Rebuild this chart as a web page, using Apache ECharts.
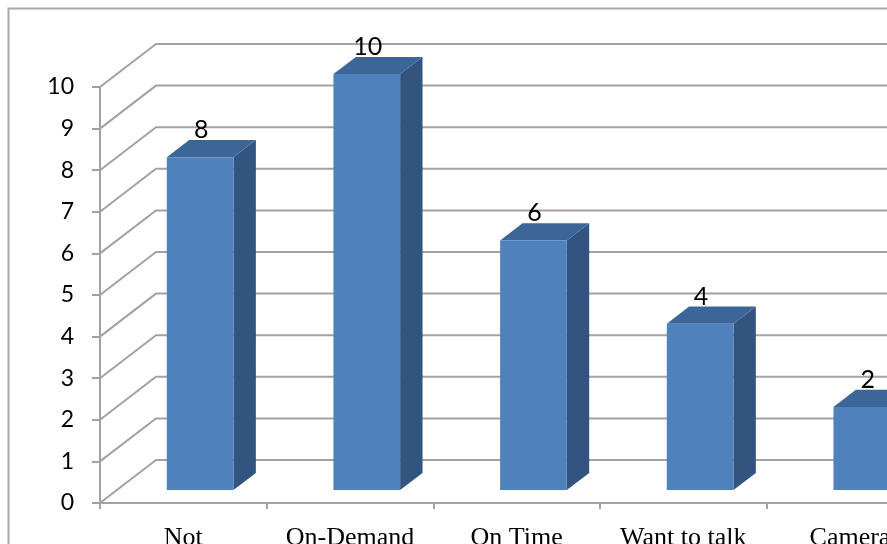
<!DOCTYPE html>
<html>
<head>
<meta charset="utf-8">
<script src="https://cdn.jsdelivr.net/npm/echarts@6/dist/echarts.min.js"></script>
<style>
html,body{margin:0;padding:0;background:#fff;}
#chart{width:887px;height:544px;}
</style>
</head>
<body>
<div id="chart"></div>
<script>
// ---- data ----
const categories = ['Not', 'On-Demand', 'On Time', 'Want to talk', 'Camera'];
const values = [8, 10, 6, 4, 2];
const yTicks = [0, 1, 2, 3, 4, 5, 6, 7, 8, 9, 10];

// ---- style constants (3D look) ----
const DEPTH_X = 56, DEPTH_Y = 43;          // floor depth offset
const BAR_START = 0.3, BAR_DEPTH = 0.4;      // bar position in depth (fraction)
const GRID_COLOR = '#a2a2a2';
const FRONT = '#4f81bd', SIDE = '#32547e', TOP = '#3c6698';

const chart = echarts.init(document.getElementById('chart'), null, {renderer: 'canvas'});

function renderGrid(params, api) {
  const cs = params.coordSys;
  const y = api.coord([0, api.value(1)])[1];
  const x0 = cs.x, x1 = cs.x + cs.width;
  return {
    type: 'polyline',
    shape: { points: [[x0, y], [x0 + DEPTH_X, y - DEPTH_Y], [x1 + DEPTH_X + 200, y - DEPTH_Y]] },
    style: { stroke: GRID_COLOR, lineWidth: 2, fill: null }
  };
}

function renderBar(params, api) {
  const i = api.value(0), v = api.value(1);
  const base = api.coord([i, 0]);
  const top = api.coord([i, v]);
  const bw = api.size([1, 0])[0] * 0.4;
  const ox = DEPTH_X * BAR_START, oy = DEPTH_Y * BAR_START;
  const dx = DEPTH_X * BAR_DEPTH, dy = DEPTH_Y * BAR_DEPTH;
  const l = base[0] - bw / 2 + ox, r = base[0] + bw / 2 + ox;
  const t = top[1] - oy, b = base[1] - oy;
  return {
    type: 'group',
    children: [
      { type: 'polygon', shape: { points: [[r, t], [r + dx, t - dy], [r + dx, b - dy], [r, b]] },
        style: { fill: SIDE } },
      { type: 'polygon', shape: { points: [[l, t], [l + dx, t - dy], [r + dx, t - dy], [r, t]] },
        style: { fill: TOP } },
      { type: 'rect', shape: { x: l, y: t, width: r - l, height: b - t },
        style: { fill: FRONT } },
      { type: 'text', x: (l + r) / 2 + 1, y: t - dy - 10,
        style: { text: String(v), fill: '#000', font: '25px Lato, "Liberation Sans", sans-serif',
                 align: 'center', verticalAlign: 'middle' } }
    ]
  };
}

chart.setOption({
  animation: false,
  backgroundColor: '#fff',
  graphic: [{
    type: 'rect', left: 6, top: 6, z: 100,
    shape: { x: 0, y: 0, width: 2000, height: 2000 },
    style: { fill: null, stroke: '#a8a8a8', lineWidth: 2 }
  }],
  grid: { left: 100, top: 87, width: 833.3, height: 416, containLabel: false, outerBoundsMode: 'none' },
  xAxis: {
    type: 'category', data: categories, boundaryGap: true,
    axisLine: { show: true, lineStyle: { color: GRID_COLOR, width: 2 } },
    axisTick: { show: true, length: 6, lineStyle: { color: GRID_COLOR, width: 2 } },
    axisLabel: { color: '#000', fontFamily: '"Liberation Serif", serif', fontSize: 26, margin: 22, interval: 0 },
    splitLine: { show: false }
  },
  yAxis: {
    type: 'value', min: 0, max: 10, interval: 1,
    axisLine: { show: true, lineStyle: { color: GRID_COLOR, width: 2 } },
    axisTick: { show: true, length: 8, lineStyle: { color: GRID_COLOR, width: 2 } },
    axisLabel: { color: '#000', fontFamily: 'Lato, "Liberation Sans", sans-serif', fontSize: 23, margin: 26 },
    splitLine: { show: false }
  },
  series: [
    { type: 'custom', renderItem: renderGrid, clip: false, z: 1, silent: true,
      data: yTicks.map(t => [0, t]) },
    { type: 'custom', renderItem: renderBar, clip: false, z: 3,
      data: values.map((v, i) => [i, v]) }
  ]
});
</script>
</body>
</html>
